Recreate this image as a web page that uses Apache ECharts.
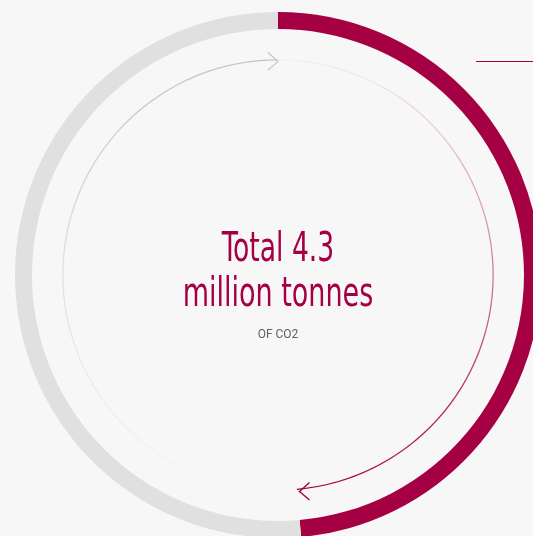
<!DOCTYPE html>
<html>
<head>
<meta charset="utf-8">
<script src="https://cdn.jsdelivr.net/npm/echarts@6/dist/echarts.min.js"></script>
<style>
  html, body { margin: 0; padding: 0; background: #f7f7f7; }
  #chart { width: 533px; height: 536px; }
</style>
</head>
<body>
<div id="chart"></div>
<script>
// share of the total, clockwise from 12 o'clock
var segmentNames = ['Highlighted share', 'Remainder'];
var segmentValues = [48.6, 51.4];
var headline = ['Total 4.3', 'million tonnes'];
var unitLabel = 'OF CO2';

var crimson = '#a50044';
var cx = 278, cy = 275;
var bigFont = '40px "DejaVu Sans Condensed", "Liberation Sans Narrow", sans-serif';

var ringData = segmentNames.map(function (name, i) {
    return { name: name, value: segmentValues[i] };
});

var chart = echarts.init(document.getElementById('chart'));
chart.setOption({
    backgroundColor: '#f7f7f7',
    animation: false,
    series: [
        {
            name: 'ring',
            type: 'pie',
            center: [cx, cy],
            radius: [246, 263],
            startAngle: 90,
            clockwise: true,
            silent: true,
            label: { show: false },
            labelLine: { show: false },
            data: ringData.map(function (d, i) {
                return { name: d.name, value: d.value, itemStyle: { color: i === 0 ? crimson : '#e0e0e0' } };
            })
        },
        {
            name: 'flow',
            type: 'pie',
            center: [cx, cy],
            radius: [214.5, 215.8],
            startAngle: 90,
            clockwise: true,
            silent: true,
            label: { show: false },
            labelLine: { show: false },
            data: ringData.map(function (d, i) {
                var grad = i === 0
                    ? new echarts.graphic.LinearGradient(0, 0, 0, 1, [
                        { offset: 0, color: 'rgba(165,0,68,0.03)' },
                        { offset: 0.5, color: 'rgba(165,0,68,0.5)' },
                        { offset: 1, color: 'rgba(165,0,68,1)' }])
                    : new echarts.graphic.LinearGradient(0, 0, 0, 1, [
                        { offset: 0, color: 'rgba(195,195,195,1)' },
                        { offset: 0.5, color: 'rgba(200,200,200,0.5)' },
                        { offset: 1, color: 'rgba(210,210,210,0.05)' }]);
                return { name: d.name, value: d.value, itemStyle: { color: grad } };
            })
        }
    ],
    graphic: [
        {
            type: 'polyline',
            shape: { points: [[268, 52.5], [278, 61.5], [268, 70]] },
            style: { stroke: '#c8c8c8', lineWidth: 1.2, fill: null }
        },
        {
            type: 'polyline',
            shape: { points: [[309.5, 482.5], [299.5, 491.5], [309.5, 500]] },
            style: { stroke: crimson, lineWidth: 1.4, fill: null }
        },
        {
            type: 'rect',
            shape: { x: 476, y: 61, width: 57, height: 1 },
            style: { fill: crimson }
        },
        {
            type: 'text',
            x: cx, y: 271, scaleX: 0.74,
            style: {
                text: headline[0], fill: crimson, align: 'center', verticalAlign: 'bottom',
                font: bigFont
            }
        },
        {
            type: 'text',
            x: cx, y: 316, scaleX: 0.75,
            style: {
                text: headline[1], fill: crimson, align: 'center', verticalAlign: 'bottom',
                font: bigFont
            }
        },
        {
            type: 'text',
            x: cx, y: 335,
            style: {
                text: unitLabel, fill: '#5f5f5f', align: 'center', verticalAlign: 'middle',
                font: '12px Roboto, sans-serif'
            }
        }
    ]
});
</script>
</body>
</html>
